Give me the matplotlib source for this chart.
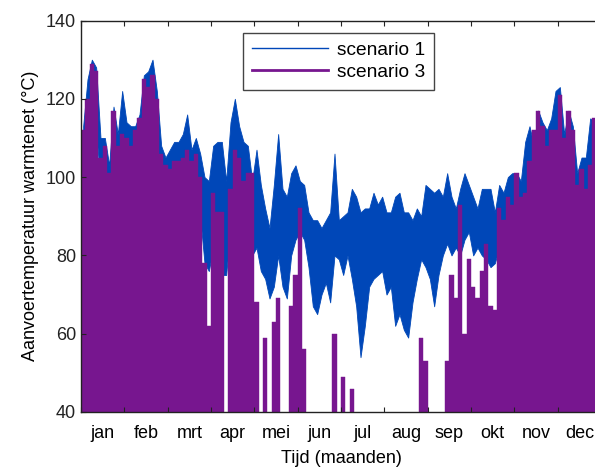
import numpy as np
import matplotlib
matplotlib.use("Agg")
import matplotlib.pyplot as plt
from matplotlib.lines import Line2D

plt.rcParams['font.family'] = ['Liberation Sans', 'DejaVu Sans']

# maanden (labels in het midden van elke maand)
months = ['jan', 'feb', 'mrt', 'apr', 'mei', 'jun', 'jul', 'aug', 'sep', 'okt', 'nov', 'dec']

# 10 waarden per maand, afgelezen uit de figuur
# scenario 1: boven- en onderkant van de band
s1_hi = [113, 125, 130, 128, 110, 110, 103, 118, 111, 122,
         114, 113, 113, 116, 126, 127, 130, 122, 108, 105,
         107, 109, 109, 111, 116, 107, 110, 106, 100, 99,
         108, 109, 109, 99, 114, 120, 113, 109, 108, 99,
         107, 98, 92, 87, 98, 111, 97, 95, 101, 103,
         99, 98, 91, 89, 89, 87, 89, 91, 106, 89,
         90, 91, 97, 95, 91, 92, 92, 96, 93, 95,
         91, 91, 95, 96, 91, 91, 89, 92, 90, 98,
         97, 96, 97, 95, 101, 95, 92, 97, 101, 98,
         95, 92, 97, 97, 97, 91, 98, 96, 100, 101,
         101, 99, 109, 113, 108, 117, 114, 112, 115, 122,
         123, 111, 117, 113, 101, 105, 105, 115, 114, 110]
s1_lo = [100, 108, 115, 112, 98, 96, 92, 100, 98, 104,
         100, 99, 100, 102, 110, 111, 112, 106, 96, 94,
         94, 95, 96, 95, 96, 94, 95, 90, 78, 76,
         82, 77, 75, 75, 87, 96, 95, 90, 84, 80,
         82, 76, 74, 69, 72, 80, 72, 69, 80, 84,
         86, 84, 77, 67, 65, 70, 73, 68, 80, 79,
         75, 80, 74, 67, 54, 62, 72, 74, 75, 76,
         70, 72, 62, 65, 61, 59, 68, 74, 79, 77,
         74, 67, 75, 80, 83, 80, 82, 80, 84, 86,
         80, 82, 80, 79, 77, 78, 82, 84, 83, 90,
         90, 88, 95, 98, 96, 102, 100, 98, 100, 106,
         108, 98, 102, 98, 90, 92, 92, 100, 100, 96]
# scenario 3: top per interval (nan = uit, onder de 40 graden)
nan = np.nan
s3_hi = [112, 120, 129, 127, 105, 108, 101, 117, 108, 111,
         110, 108, 112, 115, 125, 123, 126, 120, 106, 103,
         102, 104, 104, 105, 107, 104, 106, 100, 78, 62,
         96, 91, 91, nan, 97, 107, 105, 99, 101, 101,
         68, nan, 59, nan, 63, 69, nan, nan, 67, 75,
         92, 56, nan, nan, nan, nan, nan, nan, 60, nan,
         49, nan, 46, nan, nan, nan, nan, nan, nan, nan,
         nan, nan, nan, nan, nan, nan, nan, nan, 59, 53,
         nan, nan, nan, nan, 53, 75, 69, 93, 60, 79,
         72, 69, 76, 83, 67, 66, 92, 89, 95, 93,
         101, 95, 96, 104, 112, 117, 113, 108, 112, 112,
         121, 110, 117, 112, 98, 102, 97, 103, 115, 112]

blue = '#0047b8'
purple = '#77168f'

t = (np.arange(len(s1_hi)) + 0.5) / 10.0
s3 = np.array(s3_hi, dtype=float)
on = ~np.isnan(s3)

fig = plt.figure(figsize=(5.95, 4.67), dpi=100)
ax = fig.add_axes([81 / 595, 1 - 412 / 467, 520 / 595, 391.5 / 467])

# scenario 1: band tussen onder- en bovenkant
ax.fill_between(t, s1_lo, s1_hi, color=blue, lw=0.6, edgecolor=blue)
# scenario 3: aan/uit, gevuld tot onder de as
ax.bar(t[on], s3[on], width=0.1, bottom=0, color=purple, edgecolor=purple, lw=0.3)

ax.set_xlim(0, 12)
ax.set_ylim(40, 140)
ax.set_yticks(np.arange(40, 141, 20))
ax.set_xticks(np.arange(0, 13))
ax.set_xticklabels([])
ax.set_xticks(np.arange(12) + 0.5, minor=True)
ax.set_xticklabels(months, minor=True)
ax.tick_params(axis='both', which='major', direction='in', length=3.5, width=0.8,
               top=True, right=True, labelsize=13, colors='#222222')
ax.tick_params(axis='x', which='minor', length=0, labelsize=13, pad=9)
for sp in ax.spines.values():
    sp.set_color('#222222')
    sp.set_linewidth(1.0)

ax.set_xlabel('Tijd (maanden)', fontsize=13, labelpad=6)
ax.set_ylabel('Aanvoertemperatuur warmtenet (\u00b0C)', fontsize=13, labelpad=5)

handles = [Line2D([], [], color=blue, lw=1.0), Line2D([], [], color=purple, lw=2.0)]
leg = ax.legend(handles, ['scenario 1', 'scenario 3'], loc='upper left',
                bbox_to_anchor=(0.3115, 0.9686), borderaxespad=0, fontsize=13.8,
                handlelength=4.0, handletextpad=0.45, labelspacing=0.25,
                fancybox=False, framealpha=1, borderpad=0.45)
leg.get_frame().set_edgecolor('#444444')
leg.get_frame().set_linewidth(1.0)

fig.savefig('out.png', dpi=100)
